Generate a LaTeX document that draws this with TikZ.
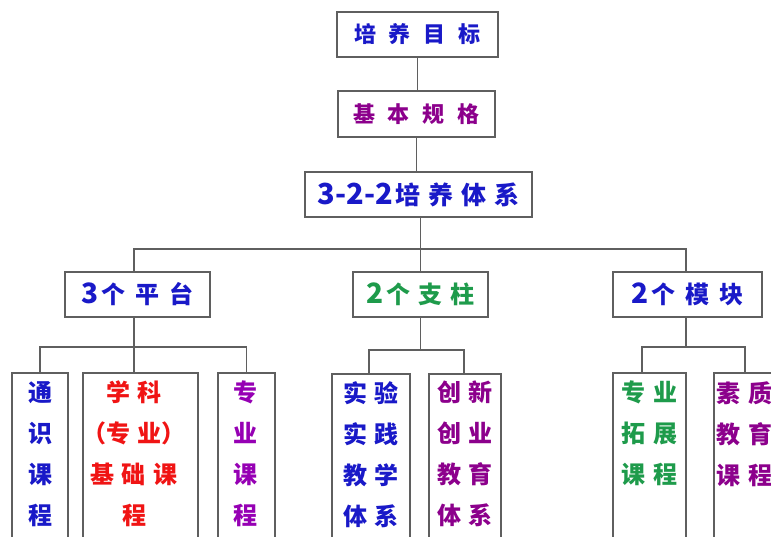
\documentclass[tikz,border=0pt]{standalone}
\usepackage{fontspec}
\setmainfont{Noto Sans CJK SC}
\definecolor{cblue}{RGB}{25,25,200}
\definecolor{cpurple}{RGB}{140,0,140}
\definecolor{cviolet}{RGB}{150,0,180}
\definecolor{cgreen}{RGB}{30,155,75}
\definecolor{cred}{RGB}{240,20,20}
\definecolor{lgray}{RGB}{95,95,95}
\newcommand\gp{\hspace{13pt}}
\newcommand\gq{\hspace{8pt}}
\begin{document}
\begin{tikzpicture}[x=1pt,y=-1pt,
  box/.style={draw=lgray, line width=1.5pt, fill=white, inner sep=0pt},
  conn/.style={draw=lgray, line width=1.5pt},
  ttl/.style={font=\fontsize{22}{26}\selectfont\bfseries},
  mid/.style={font=\fontsize{24}{28}\selectfont\bfseries},
  coltext/.style={font=\fontsize{24}{41}\selectfont\bfseries, align=center, inner sep=0pt, anchor=north}]
\useasboundingbox (0,0) rectangle (771,537);
\clip (0,0) rectangle (771,537);
% top chain
\node[box, ttl, text=cblue, minimum width=161, minimum height=45] (goal) at (417.5,34.5) {培\gp 养\gp 目\gp 标};
\node[box, ttl, text=cpurple, minimum width=157, minimum height=46] (basic) at (416.5,114) {基\gp 本\gp 规\gp 格};
\node[box, ttl, text=cblue, minimum width=227, minimum height=45] (sys) at (418.5,194.5) {{\fontsize{29}{30}\selectfont 3-2-2}\hspace{2pt}{\fontsize{25}{28}\selectfont 培\gq 养\gq 体\gq 系}};
\draw[conn] (goal.south) -- (goal.south |- basic.north);
\draw[conn] (basic.south) -- (basic.south |- sys.north);
% level 1
\node[box, mid, text=cblue, minimum width=145, minimum height=45] (p1) at (137.5,294.5) {{\fontsize{28}{30}\selectfont 3}\hspace{2pt}个\hspace{10pt}平\hspace{10pt}台};
\node[box, mid, text=cgreen, minimum width=135, minimum height=45] (p2) at (420.5,294.5) {{\fontsize{28}{30}\selectfont 2}\hspace{2pt}个\gq 支\gq 柱};
\node[box, mid, text=cblue, minimum width=149, minimum height=45] (p3) at (687.5,294.5) {{\fontsize{28}{30}\selectfont 2}\hspace{2pt}个\hspace{10pt}模\hspace{10pt}块};
\coordinate (b1) at (134,249);
\coordinate (b3) at (686,249);
\draw[conn] (b1 |- p1.north) -- (b1) -- (b3) -- (b3 |- p3.north);
\draw[conn] (sys.south -| p2.north) -- (p2.north);
% level 2 boxes
\node[box, anchor=north, minimum width=56, minimum height=190] (c1) at (40,372) {};
\node[box, anchor=north, minimum width=115, minimum height=190] (c2) at (140.5,372) {};
\node[box, anchor=north, minimum width=57, minimum height=190] (c3) at (246.5,372) {};
\node[box, anchor=north, minimum width=78, minimum height=190] (c4) at (371,373) {};
\node[box, anchor=north, minimum width=72, minimum height=190] (c5) at (465,373) {};
\node[box, anchor=north, minimum width=73, minimum height=190] (c6) at (649.5,372) {};
\node[box, anchor=north, minimum width=76, minimum height=190] (c7) at (752,372) {};
% level 2 connectors
\coordinate (q1) at (134,347);
\draw[conn] (p1.south -| q1) -- (q1) -- (q1 |- c2.north);
\draw[conn] (c1.north) |- (q1) -| (c3.north);
\coordinate (q2) at (420.5,350);
\coordinate (k4) at (369,350);
\coordinate (k5) at (464,350);
\draw[conn] (p2.south) -- (q2);
\draw[conn] (k4 |- c4.north) -- (k4) -- (k5) -- (k5 |- c5.north);
\coordinate (q3) at (686,347);
\coordinate (k6) at (642,347);
\coordinate (k7) at (745,347);
\draw[conn] (p3.south -| q3) -- (q3);
\draw[conn] (k6 |- c6.north) -- (k6) -- (k7) -- (k7 |- c7.north);
% column texts
\node[coltext, text=cblue] (t1) at (40,381) {通\\识\\课\\程};
\node[coltext, text=cred] (t2) at (134,381) {学\gq 科\\（专\gq 业）\\基\gq 础\gq 课\\程};
\node[coltext, text=cviolet] (t3) at (245,381) {专\\业\\课\\程};
\node[coltext, text=cblue] (t4) at (371,381) {实\gq 验\\实\gq 践\\教\gq 学\\体\gq 系};
\node[coltext, text=cpurple] (t5) at (465,381) {创\gq 新\\创\gq 业\\教\gq 育\\体\gq 系};
\node[coltext, text=cgreen] (t6) at (649.5,381) {专\gq 业\\拓\gq 展\\课\gq 程};
\node[coltext, text=cpurple] (t7) at (744,381) {素\gq 质\\教\gq 育\\课\gq 程};
\end{tikzpicture}
\end{document}
